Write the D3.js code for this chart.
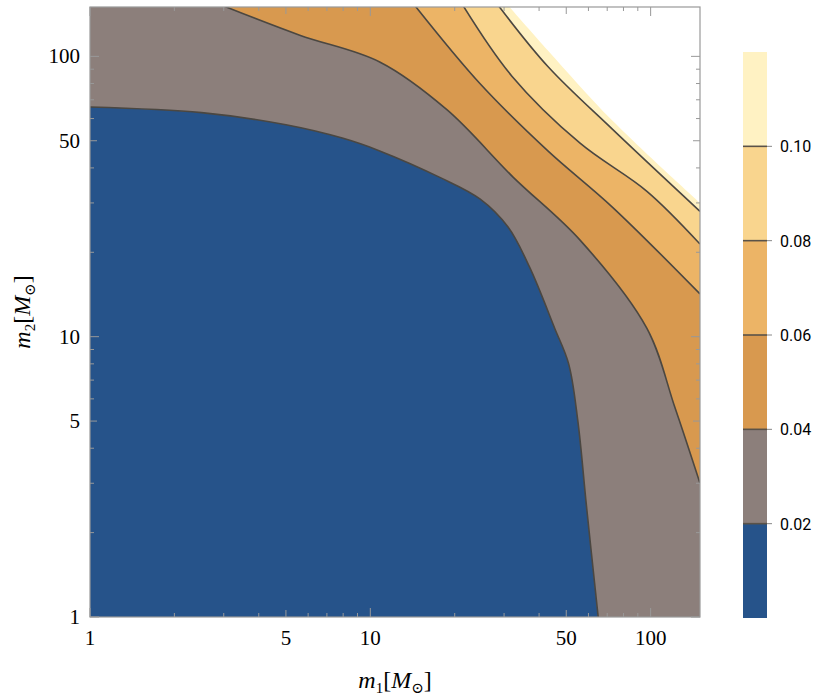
<!DOCTYPE html>
<html><head><meta charset="utf-8">
<script src="https://cdn.jsdelivr.net/npm/d3@7"></script>
<style>body{margin:0;background:#fff}</style>
</head><body>
<div id="chart"></div>
<script>
// contour boundaries in (m1, m2), solar masses
const line002 = [[1,66],[2.5,63],[5,57],[8,51],[10.8,46],[17.7,37],[24.6,31],[31,24.6],[37,17.7],[45.5,10.7],[51,8],[55,5],[59,2.5],[65,1]];
const line004 = [[2.96,152],[5.6,119],[10.8,95.5],[18.8,64.4],[32.3,37.1],[56,22.1],[97,10.7],[122,5.6],[150,3]];
const line006 = [[14.4,152],[24.6,80],[43,46],[73,29],[150,14.2]];
const line008 = [[21.4,152],[32,85],[56,49],[97,33],[150,21.4]];
const line010 = [[28.6,152],[43,92],[73,55],[150,28]];
const line012 = [[31,152],[43,105],[73,59],[150,30]];
const levels = [0.02, 0.04, 0.06, 0.08, 0.10, 0.12];
const bandColors = ["#26538a", "#8c7f7b", "#d8994f", "#ecb466", "#f9d58e", "#fff2c3", "#ffffff"];
const xTicks = [1, 5, 10, 50, 100];
const yTicks = [1, 5, 10, 50, 100];
const barTicks = [0.02, 0.04, 0.06, 0.08, 0.10];

const W = 830, H = 697;
const svg = d3.select("#chart").append("svg").attr("width", W).attr("height", H);
const x = d3.scaleLog().domain([1, 150]).range([90, 700]);
const y = d3.scaleLog().domain([1, 150]).range([617, 7]);
const serif = "Liberation Serif, DejaVu Serif, serif";

svg.append("clipPath").attr("id", "plot").append("rect")
    .attr("x", 90).attr("y", 7).attr("width", 610).attr("height", 610);
const g = svg.append("g").attr("clip-path", "url(#plot)");

g.append("rect").attr("x", 90).attr("y", 7).attr("width", 610).attr("height", 610)
    .attr("fill", bandColors[0]);

const curve = d3.line().x(d => x(d[0])).y(d => y(d[1])).curve(d3.curveCatmullRom.alpha(0.5));
const bounds = [line002, line004, line006, line008, line010, line012];

bounds.forEach((pts, i) => {
    const path = curve(pts);
    const last = pts[pts.length - 1], first = pts[0];
    // close the region toward the top-right corner
    const extra = `L${x(200)},${y(last[1])}L${x(200)},${y(200)}L${x(first[0])},${y(200)}` +
        (first[0] <= 1 ? `L${x(0.5)},${y(200)}L${x(0.5)},${y(first[1])}` : "") + "Z";
    g.append("path").attr("d", path + extra).attr("fill", bandColors[i + 1]);
});

bounds.slice(0, 5).forEach(pts => {
    g.append("path").attr("d", curve(pts)).attr("fill", "none")
        .attr("stroke", "#4b4741").attr("stroke-width", 1.6);
});

// frame and ticks
svg.append("rect").attr("x", 90).attr("y", 7).attr("width", 610).attr("height", 610)
    .attr("fill", "none").attr("stroke", "#999").attr("stroke-width", 1.2);

const minor = [];
[1, 10, 100].forEach(d => { for (let k = 1; k < 10; k++) if (d * k <= 150) minor.push(d * k); });
const tk = svg.append("g").attr("stroke", "#999").attr("stroke-width", 1);
minor.forEach(v => {
    const len = [1, 10, 100].includes(v) ? 9 : (v === 5 || v === 50 ? 7 : 4);
    tk.append("line").attr("x1", x(v)).attr("x2", x(v)).attr("y1", 617).attr("y2", 617 - len);
    tk.append("line").attr("x1", x(v)).attr("x2", x(v)).attr("y1", 7).attr("y2", 7 + len);
    tk.append("line").attr("y1", y(v)).attr("y2", y(v)).attr("x1", 90).attr("x2", 90 + len);
    tk.append("line").attr("y1", y(v)).attr("y2", y(v)).attr("x1", 700).attr("x2", 700 - len);
});

svg.append("g").selectAll("text").data(xTicks).join("text")
    .attr("x", d => x(d)).attr("y", 645).attr("text-anchor", "middle")
    .attr("font-family", serif).attr("font-size", 21).text(d => d);
svg.append("g").selectAll("text").data(yTicks).join("text")
    .attr("x", 80).attr("y", d => y(d) + 7).attr("text-anchor", "end")
    .attr("font-family", serif).attr("font-size", 21).text(d => d);

// axis titles
const xt = svg.append("text").attr("x", 395).attr("y", 688).attr("text-anchor", "middle")
    .attr("font-family", serif).attr("font-size", 24);
xt.append("tspan").attr("font-style", "italic").text("m");
xt.append("tspan").attr("font-size", 15).attr("dy", 5).text("1");
xt.append("tspan").attr("dy", -5).text("[");
xt.append("tspan").attr("font-style", "italic").text("M");
xt.append("tspan").attr("font-size", 15).attr("dy", 5).text("⊙");
xt.append("tspan").attr("dy", -5).text("]");

const yt = svg.append("text").attr("transform", "translate(30,312) rotate(-90)").attr("text-anchor", "middle")
    .attr("font-family", serif).attr("font-size", 24);
yt.append("tspan").attr("font-style", "italic").text("m");
yt.append("tspan").attr("font-size", 15).attr("dy", 5).text("2");
yt.append("tspan").attr("dy", -5).text("[");
yt.append("tspan").attr("font-style", "italic").text("M");
yt.append("tspan").attr("font-size", 15).attr("dy", 5).text("⊙");
yt.append("tspan").attr("dy", -5).text("]");

// colour bar
const c = d3.scaleLinear().domain([0, 0.12]).range([618, 52]);
const bar = svg.append("g");
const edges = [0, ...levels];
edges.slice(0, -1).forEach((v, i) => {
    bar.append("rect").attr("x", 743).attr("width", 24)
        .attr("y", c(edges[i + 1])).attr("height", c(v) - c(edges[i + 1]))
        .attr("fill", bandColors[i]);
});
barTicks.forEach(v => {
    bar.append("line").attr("x1", 743).attr("x2", 767).attr("y1", c(v)).attr("y2", c(v))
        .attr("stroke", "#5a5248").attr("stroke-width", 1.6);
    bar.append("line").attr("x1", 767).attr("x2", 772).attr("y1", c(v)).attr("y2", c(v))
        .attr("stroke", "#888");
    bar.append("text").attr("x", 780).attr("y", c(v) + 6).attr("font-family", "Roboto, sans-serif")
        .attr("font-size", 16).text(v.toFixed(2));
});
</script>
</body></html>
